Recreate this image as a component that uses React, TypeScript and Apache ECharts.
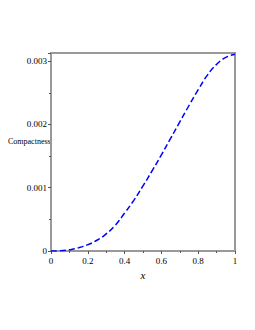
import React, { useEffect, useRef } from "react";
import * as echarts from "echarts";

const xValues = [0, 0.05, 0.1, 0.15, 0.2, 0.25, 0.3, 0.35, 0.4, 0.45, 0.5, 0.55, 0.6, 0.65, 0.7, 0.75, 0.8, 0.85, 0.9, 0.95, 1.0];
const compactness = [0, 0.000003, 0.00002, 0.00005, 0.0001, 0.00017, 0.00027, 0.00041, 0.0006, 0.0008, 0.00103, 0.00127, 0.00152, 0.00178, 0.00204, 0.0023, 0.00255, 0.00278, 0.00295, 0.00306, 0.00311];
const xTickLabels = ["0", "0.2", "0.4", "0.6", "0.8", "1"];
const yTickLabels = ["0", "0.001", "0.002", "0.003"];

export default function App() {
  const ref = useRef<HTMLDivElement>(null);
  useEffect(() => {
    if (!ref.current) return;
    const chart = echarts.init(ref.current, null, { renderer: "svg" });
    const font = "'Liberation Serif', 'DejaVu Serif', serif";
    chart.setOption({
      animation: false,
      backgroundColor: "#ffffff",
      grid: { left: 51, right: 20, top: 53, bottom: 79, show: true, borderColor: "#999999", borderWidth: 2, backgroundColor: "transparent" },
      xAxis: {
        type: "value",
        min: 0,
        max: 1,
        interval: 0.2,
        name: "x",
        nameLocation: "middle",
        nameGap: 16,
        nameTextStyle: { fontFamily: font, fontStyle: "italic", fontSize: 11, color: "#000" },
        axisLine: { show: true, lineStyle: { color: "#999999", width: 2 } },
        axisTick: { show: true, length: 3, lineStyle: { color: "#555" } },
        minorTick: { show: true, splitNumber: 2, length: 2, lineStyle: { color: "#555" } },
        splitLine: { show: false },
        axisLabel: {
          fontFamily: font,
          fontSize: 9,
          color: "#000",
          margin: 5,
          formatter: (v: number) => xTickLabels[Math.round(v / 0.2)] ?? "",
        },
      },
      yAxis: {
        type: "value",
        min: 0,
        max: 0.00313,
        interval: 0.001,
        axisLine: { show: true, lineStyle: { color: "#999999", width: 2 } },
        axisTick: { show: true, length: 3, lineStyle: { color: "#555" } },
        minorTick: { show: true, splitNumber: 2, length: 2, lineStyle: { color: "#555" } },
        splitLine: { show: false },
        axisLabel: {
          fontFamily: font,
          fontSize: 9,
          color: "#000",
          margin: 4,
          showMaxLabel: false,
          formatter: (v: number) => {
            const i = Math.round(v / 0.001);
            return Math.abs(v - i * 0.001) < 1e-9 ? yTickLabels[i] ?? "" : "";
          },
        },
      },
      graphic: [
        {
          type: "text",
          left: 8,
          top: 137,
          style: { text: "Compactness", fontFamily: font, fontSize: 8, fill: "#000" },
        },
      ],
      series: [
        {
          type: "line",
          data: xValues.map((x, i) => [x, compactness[i]]),
          smooth: true,
          showSymbol: false,
          lineStyle: { color: "#0000ff", width: 1.5, type: [6, 3] },
        },
      ],
    });
    return () => chart.dispose();
  }, []);
  return <div ref={ref} style={{ position: "fixed", left: 0, top: 0, width: 255, height: 330 }} />;
}
